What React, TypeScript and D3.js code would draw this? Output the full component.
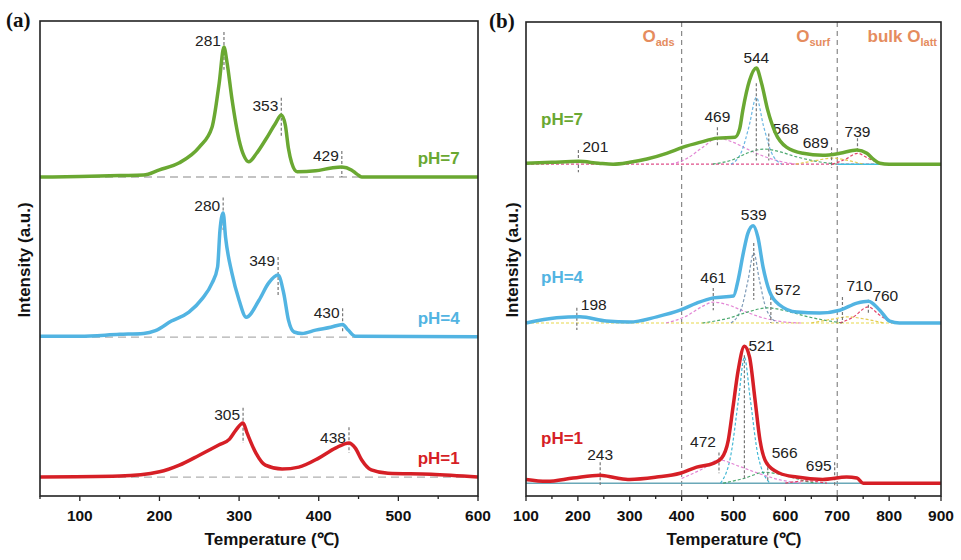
import React from 'react';
import * as d3 from 'd3';

type Pt = [number, number];

// panel (a) curves: [temperature, intensity above own baseline]
const a_pH7: Pt[] = [[50,0],[100,0.1],[150,0.3],[180,0.4],[200,1.5],[225,3.0],[250,6.3],[266,10.5],[275,19.8],[281,27.4],[285,24],[291,16.5],[300,7.8],[306,4.5],[312,3.2],[322,5],[333,7.8],[346,11.4],[353,13.1],[358,11],[362,6],[366,3.0],[373,1.1],[396,1.3],[416,1.9],[429,2.1],[441,1.5],[448,0.6],[454,0],[600,0]];
const a_pH4: Pt[] = [[50,0.2],[100,0.2],[150,0.6],[180,0.8],[195,1.4],[215,3.4],[237,5.3],[254,8.2],[266,11.4],[273,14.8],[276,22.6],[280,26.2],[283,21.1],[291,13.5],[300,7.8],[309,4.2],[325,7.8],[337,11.4],[349,13.1],[356,9.3],[362,3.6],[369,1.1],[379,0.8],[396,1.5],[415,2.1],[430,2.7],[437,1.5],[446,0.2],[600,0.1]];
const a_pH1: Pt[] = [[50,0],[150,0.2],[200,1.1],[225,2.5],[250,4.6],[275,6.8],[288,8.0],[296,9.9],[305,11.4],[310,9.3],[321,5.1],[333,2.5],[354,1.7],[375,2.1],[400,4.0],[421,6.1],[438,7.2],[446,6.1],[454,3.6],[466,1.5],[487,0.8],[541,0.6],[600,0]];

// panel (b) curves
const b_pH7: Pt[] = [[100,0.2],[150,0.4],[201,0.6],[240,0.2],[268,0],[300,0.4],[333,1.1],[371,2.3],[403,3.6],[435,4.6],[469,5.5],[503,5.7],[512,7.5],[518,11.4],[531,17.7],[544,20.3],[554,17.1],[566,11.4],[580,6.8],[602,3.6],[634,2.3],[672,1.9],[705,2.3],[738,3.0],[757,2.3],[770,1.0],[782,0.2],[800,0],[900,0]];
const b_pH4: Pt[] = [[100,0],[159,1.1],[204,1.3],[255,0.4],[300,0.2],[352,1.3],[397,2.7],[429,4.2],[461,5.3],[500,5.7],[509,9.1],[519,14.8],[528,19.0],[538,20.5],[547,18.1],[557,11.8],[570,6.5],[589,3.8],[622,2.3],[666,2.1],[705,2.7],[738,4.2],[760,4.6],[782,2.7],[801,0.4],[820,0],[900,0]];
const b_pH1: Pt[] = [[100,0.8],[140,0.4],[191,1.1],[243,1.7],[275,1.1],[300,0.8],[352,1.3],[397,2.1],[429,3.4],[461,4.2],[477,5.3],[490,9.1],[499,16.0],[509,23.8],[521,28.9],[531,26.6],[541,18.1],[551,9.1],[564,4.2],[589,2.1],[622,1.3],[672,0.8],[718,1.3],[738,1.1],[750,0],[900,0]];

// fitted components in (b)
const fit7_pink: Pt[] = [[380,0],[410,1.2],[440,3.5],[469,5.5],[500,4.6],[530,3.0],[560,1.6],[590,0.6],[620,0]];
const fit7_blue: Pt[] = [[495,0],[515,2.5],[530,8],[544,14.1],[558,8],[573,2.5],[593,0]];
const fit7_green: Pt[] = [[460,0],[500,1.0],[530,2.5],[560,3.2],[590,2.6],[620,1.6],[660,0.6],[700,0]];
const fit7_yellow: Pt[] = [[620,0],[660,0.8],[690,1.3],[720,0.8],[750,0]];
const fit7_red: Pt[] = [[690,0],[715,1.0],[739,2.3],[760,1.2],[785,0]];
const fit4_pink: Pt[] = [[370,0],[410,1.5],[440,3.5],[461,4.4],[490,3.8],[520,2.5],[560,1.0],[600,0.2],[630,0]];
const fit4_blue: Pt[] = [[495,0],[515,3],[528,9],[539,14.8],[550,9],[563,3],[585,0]];
const fit4_green: Pt[] = [[440,0],[490,1.0],[530,2.4],[565,3.2],[600,2.6],[640,1.4],[680,0.5],[710,0]];
const fit4_yellow: Pt[] = [[650,0],[690,0.8],[720,1.3],[750,0.9],[790,0]];
const fit4_red: Pt[] = [[705,0],[730,1.2],[760,3.4],[780,1.8],[805,0]];
const fit1_cyan: Pt[] = [[475,0],[495,6],[510,18],[521,26.6],[532,18],[547,6],[570,0]];
const fit1_pink: Pt[] = [[400,1.0],[440,3.0],[472,4.9],[510,3.6],[550,2.0],[590,0.7],[630,0]];
const fit1_green: Pt[] = [[480,0],[520,1.0],[560,2.3],[600,1.6],[640,0.4],[660,0]];
const fit1_red: Pt[] = [[600,0],[640,0.5],[680,0]];

// peak labels
const peaksA7 = [281, 353, 429];
const peaksA4 = [280, 349, 430];
const peaksA1 = [305, 438];
const peaksB7 = [201, 469, 544, 568, 689, 739];
const peaksB4 = [198, 461, 539, 572, 710, 760];
const peaksB1 = [243, 472, 521, 566, 695];

const ticksA = d3.range(50, 601, 50);
const ticksB = d3.range(100, 901, 50);
const regionLines = [400, 700];

const GREEN = '#6aa832';
const BLUE = '#52b4e2';
const RED = '#d61f26';

// marker layout: [lineTop, lineBottom, labelY, anchor] in units above baseline
type Lay = [number, number, number, 'start' | 'middle' | 'end'];
const layA7: Lay[] = [[30.6, 22.6, 28.9, 'end'], [16.7, 8.4, 15.0, 'end'], [5.5, 0, 4.6, 'end']];
const layA4: Lay[] = [[29.5, 22.6, 27.8, 'end'], [16.9, 8.9, 16.2, 'end'], [6.1, 1.1, 5.3, 'end']];
const layA1: Lay[] = [[14.6, 7.2, 13.1, 'end'], [10.5, 5.1, 8.4, 'end']];
const layB7: Lay[] = [[3.0, -1.7, 3.8, 'start'], [7.8, 3.6, 10.1, 'middle'], [17.1, 0.8, 22.6, 'middle'], [6.5, 0.8, 7.6, 'start'], [3.6, -0.8, 4.6, 'end'], [5.5, 2.3, 7.0, 'middle']];
const layB4: Lay[] = [[3.2, -1.5, 4.0, 'start'], [7.4, 2.7, 9.5, 'middle'], [16.9, 4.9, 22.8, 'middle'], [5.5, 0, 7.0, 'start'], [5.5, 0, 8.0, 'start'], [4.9, 2.1, 5.9, 'start']];
const layB1: Lay[] = [[4.4, -0.4, 6.1, 'middle'], [6.5, 2.1, 8.9, 'end'], [27, 1, 29.1, 'start'], [4.4, 0.6, 6.5, 'start'], [4.4, -0.8, 3.8, 'end']];

const xA = d3.scaleLinear().domain([50, 600]).range([40, 478]);
const xB = d3.scaleLinear().domain([100, 900]).range([526, 941]);
const y = d3.scaleLinear().domain([0, 100]).range([496, 22]);

const FONT = 'Arial, "Liberation Sans", sans-serif';

function linePath(x: d3.ScaleLinear<number, number>, base: number, data: Pt[]) {
  return d3.line<Pt>()
    .x(d => x(d[0]))
    .y(d => y(base + d[1]))
    .curve(d3.curveMonotoneX)(data) || '';
}

const Markers = ({ x, base, peaks, lay }: { x: d3.ScaleLinear<number, number>; base: number; peaks: number[]; lay: Lay[] }) => (
  <g>
    {peaks.map((p, i) => {
      const [top, bot, ly, anchor] = lay[i];
      const px = x(p);
      const tx = anchor === 'end' ? px - 3 : anchor === 'start' ? px + 4 : px;
      return (
        <g key={p}>
          <line x1={px} x2={px} y1={y(base + top)} y2={y(base + bot)} stroke="#777" strokeWidth={1.2} strokeDasharray="3,2" />
          <text x={tx} y={y(base + ly)} textAnchor={anchor} dominantBaseline="central" fontSize={15.5} fill="#222" fontFamily={FONT}>{p}</text>
        </g>
      );
    })}
  </g>
);

const Axis = ({ x, ticks, cx }: { x: d3.ScaleLinear<number, number>; ticks: number[]; cx: number }) => (
  <g fontFamily={FONT}>
    {ticks.map(t => {
      const major = t % 100 === 0;
      return (
        <g key={t}>
          <line x1={x(t)} x2={x(t)} y1={496} y2={496 + (major ? 5 : 3)} stroke="#222" strokeWidth={1.3} />
          {major && <text x={x(t)} y={515} textAnchor="middle" dominantBaseline="central" fontSize={15.5} fontWeight="bold" fill="#111">{t}</text>}
        </g>
      );
    })}
    <text x={cx} y={539} textAnchor="middle" dominantBaseline="central" fontSize={17} fontWeight="bold" fill="#111">Temperature (℃)</text>
  </g>
);

const Fit = ({ data, base, color, solid }: { data: Pt[]; base: number; color: string; solid?: boolean }) => (
  <path d={linePath(xB, base, data)} fill="none" stroke={color} strokeWidth={1.2} strokeDasharray={solid ? undefined : '3,2'} opacity={0.9} />
);

export default function App() {
  const baseA = [67.3, 33.5, 4.0];
  const baseB = [70.0, 36.5, 2.7];
  const seriesA = [
    { name: 'pH=7', color: GREEN, data: a_pH7, peaks: peaksA7, lay: layA7 },
    { name: 'pH=4', color: BLUE, data: a_pH4, peaks: peaksA4, lay: layA4 },
    { name: 'pH=1', color: RED, data: a_pH1, peaks: peaksA1, lay: layA1 },
  ];
  const seriesB = [
    { name: 'pH=7', color: GREEN, data: b_pH7, peaks: peaksB7, lay: layB7 },
    { name: 'pH=4', color: BLUE, data: b_pH4, peaks: peaksB4, lay: layB4 },
    { name: 'pH=1', color: RED, data: b_pH1, peaks: peaksB1, lay: layB1 },
  ];
  const ORANGE = '#e58c5e';

  return (
    <svg width={961} height={560} style={{ position: 'absolute', left: 0, top: 0, background: '#fff' }}>
      {/* panel (a) */}
      {baseA.map((b, i) => (
        <line key={i} x1={xA(50)} x2={xA(600)} y1={y(b)} y2={y(b)} stroke="#b0b0b0" strokeWidth={1.3} strokeDasharray="8,5" />
      ))}
      {seriesA.map((s, i) => (
        <g key={s.name}>
          <Markers x={xA} base={baseA[i]} peaks={s.peaks} lay={s.lay} />
          <path d={linePath(xA, baseA[i], s.data)} fill="none" stroke={s.color} strokeWidth={3.5} strokeLinejoin="round" />
          <text x={xA(577)} y={y(baseA[i] + 3.9)} textAnchor="end" dominantBaseline="central" fontSize={17} fontWeight="bold" fill={s.color} fontFamily={FONT}>{s.name}</text>
        </g>
      ))}
      <rect x={40} y={21} width={438} height={475} fill="none" stroke="#222" strokeWidth={1.6} />
      <Axis x={xA} ticks={ticksA} cx={272} />
      <text transform="translate(24,260) rotate(-90)" textAnchor="middle" dominantBaseline="central" fontSize={17} fontWeight="bold" fontFamily={FONT} fill="#111">Intensity (a.u.)</text>
      <text x={6} y={27} fontSize={21} fontWeight="bold" fontFamily='"Liberation Serif", "Times New Roman", serif' fill="#111">(a)</text>

      {/* panel (b) */}
      {regionLines.map(t => (
        <line key={t} x1={xB(t)} x2={xB(t)} y1={22} y2={496} stroke="#888" strokeWidth={1.2} strokeDasharray="5,4" />
      ))}
      {/* baselines of the fits */}
      <line x1={xB(100)} x2={xB(900)} y1={y(baseB[0])} y2={y(baseB[0])} stroke="#e0508a" strokeWidth={1.2} strokeDasharray="3,2" />
      <line x1={xB(700)} x2={xB(790)} y1={y(baseB[0])} y2={y(baseB[0])} stroke="#40c0e0" strokeWidth={1.4} />
      <line x1={xB(100)} x2={xB(900)} y1={y(baseB[1])} y2={y(baseB[1])} stroke="#e8d84a" strokeWidth={1.2} strokeDasharray="3,2" />
      <line x1={xB(100)} x2={xB(750)} y1={y(baseB[2])} y2={y(baseB[2])} stroke="#6aa8b8" strokeWidth={1.4} />

      <Fit data={fit7_pink} base={baseB[0]} color="#e07ad0" />
      <Fit data={fit7_blue} base={baseB[0]} color="#5aaee0" />
      <Fit data={fit7_green} base={baseB[0]} color="#3aa060" />
      <Fit data={fit7_yellow} base={baseB[0]} color="#e0c840" />
      <Fit data={fit7_red} base={baseB[0]} color="#e0305a" />
      <Fit data={fit4_pink} base={baseB[1]} color="#e07ad0" />
      <Fit data={fit4_blue} base={baseB[1]} color="#7090b0" />
      <Fit data={fit4_green} base={baseB[1]} color="#3aa060" />
      <Fit data={fit4_yellow} base={baseB[1]} color="#e0c840" />
      <Fit data={fit4_red} base={baseB[1]} color="#e0305a" />
      <Fit data={fit1_cyan} base={baseB[2]} color="#30b0d0" />
      <Fit data={fit1_pink} base={baseB[2]} color="#e07ad0" />
      <Fit data={fit1_green} base={baseB[2]} color="#3aa060" />
      <Fit data={fit1_red} base={baseB[2]} color="#e0305a" />

      {seriesB.map((s, i) => (
        <g key={s.name}>
          <Markers x={xB} base={baseB[i]} peaks={s.peaks} lay={s.lay} />
          <path d={linePath(xB, baseB[i], s.data)} fill="none" stroke={s.color} strokeWidth={3.5} strokeLinejoin="round" />
          <text x={xB(129)} y={y(baseB[i] + 9.5)} textAnchor="start" dominantBaseline="central" fontSize={17} fontWeight="bold" fill={s.color} fontFamily={FONT}>{s.name}</text>
        </g>
      ))}
      <g fontFamily={FONT} fontWeight="bold" fill={ORANGE} fontSize={17}>
        <text x={xB(400) - 7} y={42} textAnchor="end">O<tspan fontSize={11} dy={4}>ads</tspan></text>
        <text x={xB(700) - 7} y={42} textAnchor="end">O<tspan fontSize={11} dy={4}>surf</tspan></text>
        <text x={xB(900) - 4} y={42} textAnchor="end">bulk O<tspan fontSize={11} dy={4}>latt</tspan></text>
      </g>
      <rect x={526} y={22} width={415} height={474} fill="none" stroke="#222" strokeWidth={1.6} />
      <Axis x={xB} ticks={ticksB} cx={734} />
      <text transform="translate(512,260) rotate(-90)" textAnchor="middle" dominantBaseline="central" fontSize={17} fontWeight="bold" fontFamily={FONT} fill="#111">Intensity (a.u.)</text>
      <text x={489} y={28} fontSize={21} fontWeight="bold" fontFamily='"Liberation Serif", "Times New Roman", serif' fill="#111">(b)</text>
    </svg>
  );
}
